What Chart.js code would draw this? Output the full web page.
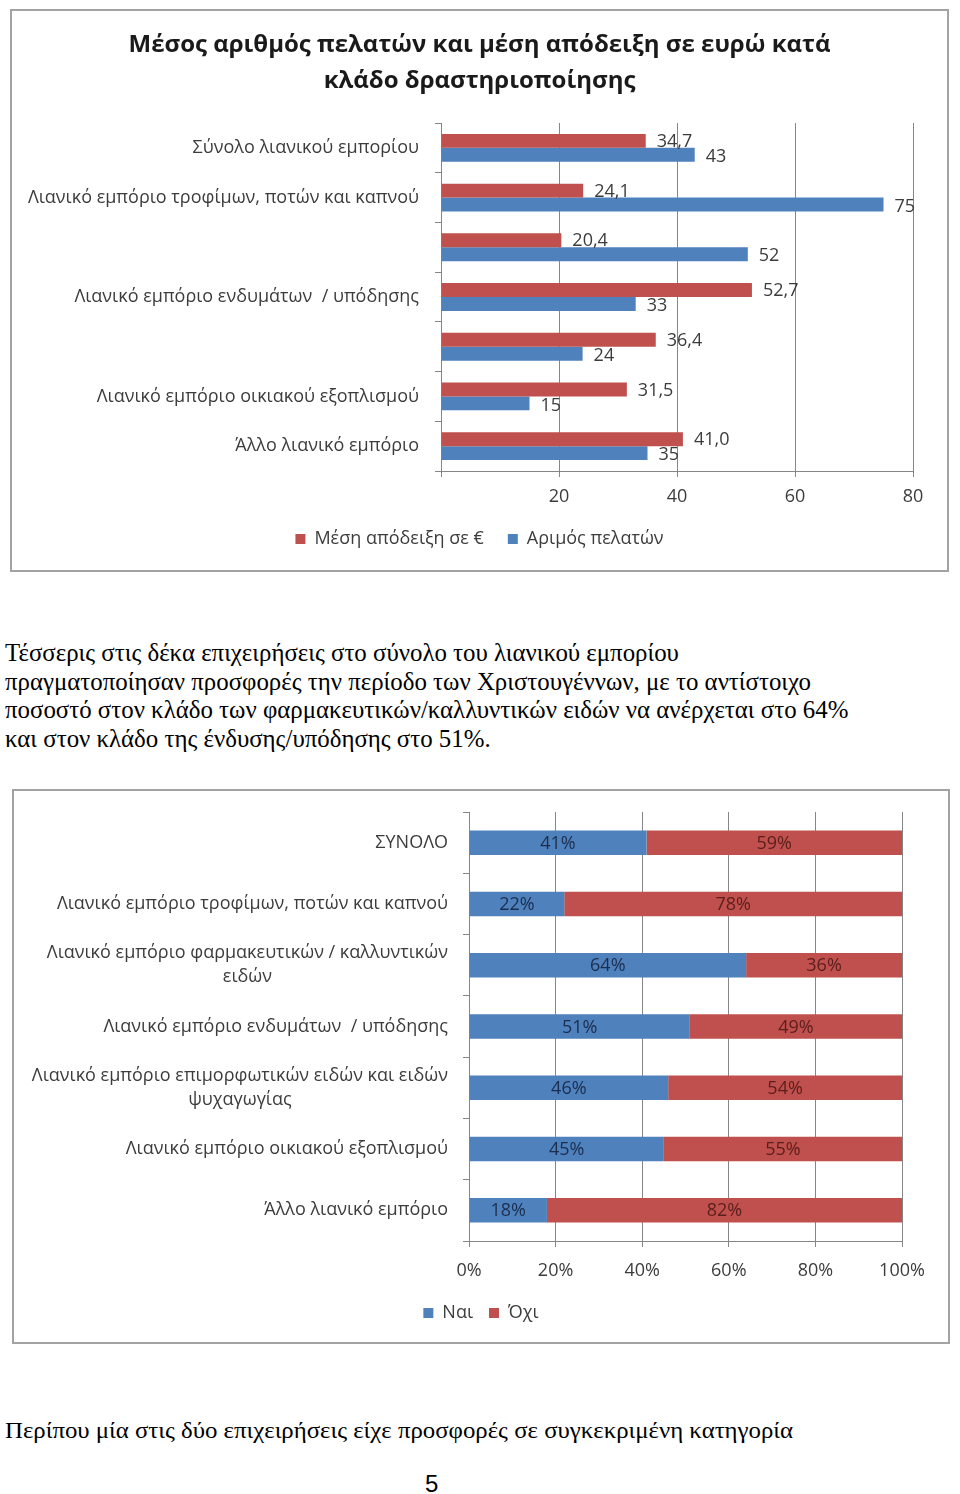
<!DOCTYPE html>
<html><head><meta charset="utf-8">
<script src="https://cdn.jsdelivr.net/npm/chart.js@4.4.1/dist/chart.umd.min.js"></script>
<style>
html,body{margin:0;padding:0;background:#fff}
body{width:960px;height:1494px;position:relative;overflow:hidden}
.box{position:absolute;border:2px solid #a3a3a3;box-sizing:border-box;background:#fff}
canvas{position:absolute}
.txt{position:absolute;left:5px;font-family:"Liberation Serif","Times New Roman",serif;color:#000;white-space:nowrap;transform-origin:0 0}
#para{top:639px;font-size:22px;line-height:28.7px}
#para div{display:block}
#para span{display:inline-block}
#last{top:1415px;font-size:24px;line-height:30px}
#pnum{position:absolute;left:425px;top:1472px;font-family:"Liberation Sans Narrow","Liberation Sans",Arial,sans-serif;font-size:24px;line-height:24px}
</style></head>
<body>
<div class="box" style="left:10px;top:9px;width:939px;height:563px"></div>
<canvas id="c1" width="935" height="547" style="left:12px;top:11px"></canvas>

<div id="para" class="txt">
<div><span>Τέσσερις στις δέκα επιχειρήσεις στο σύνολο του λιανικού εμπορίου</span></div>
<div><span>πραγματοποίησαν προσφορές την περίοδο των Χριστουγέννων, με το αντίστοιχο</span></div>
<div><span id="ref3">ποσοστό στον κλάδο των φαρμακευτικών/καλλυντικών ειδών να ανέρχεται στο 64%</span></div>
<div><span>και στον κλάδο της ένδυσης/υπόδησης στο 51%.</span></div>
</div>

<div class="box" style="left:12px;top:789px;width:938px;height:555px"></div>
<canvas id="c2" width="934" height="541" style="left:14px;top:791px"></canvas>

<div id="last" class="txt"><span id="lastSpan">Περίπου μία στις δύο επιχειρήσεις είχε προσφορές σε συγκεκριμένη κατηγορία</span></div>
<div id="pnum">5</div>

<script>
// ---------- Chart 1 data ----------
const ch1Title = ['Μέσος αριθμός πελατών και μέση απόδειξη σε ευρώ κατά', 'κλάδο δραστηριοποίησης'];
const ch1Categories = [
  'Σύνολο λιανικού εμπορίου',
  'Λιανικό εμπόριο τροφίμων, ποτών και καπνού',
  'Λιανικό εμπόριο φαρμακευτικών / καλλυντικών ειδών',
  'Λιανικό εμπόριο ενδυμάτων / υπόδησης',
  'Λιανικό εμπόριο επιμορφωτικών ειδών και ειδών ψυχαγωγίας',
  'Λιανικό εμπόριο οικιακού εξοπλισμού',
  'Άλλο λιανικό εμπόριο'
];
const ch1TickLabels = [
  'Σύνολο λιανικού εμπορίου',
  'Λιανικό εμπόριο τροφίμων, ποτών και καπνού',
  '',
  'Λιανικό εμπόριο ενδυμάτων  / υπόδησης',
  '',
  'Λιανικό εμπόριο οικιακού εξοπλισμού',
  'Άλλο λιανικό εμπόριο'
];
const ch1SeriesNames = ['Μέση απόδειξη σε €', 'Αριμός πελατών'];
const avgReceipt = [34.7, 24.1, 20.4, 52.7, 36.4, 31.5, 41.0];
const customers = [43, 75, 52, 33, 24, 15, 35];
const ch1XMin = 0, ch1XMax = 80, ch1XStep = 20;

// ---------- Chart 2 data ----------
const ch2Categories = [
  'ΣΥΝΟΛΟ',
  'Λιανικό εμπόριο τροφίμων, ποτών και καπνού',
  ['Λιανικό εμπόριο φαρμακευτικών / καλλυντικών', 'ειδών'],
  'Λιανικό εμπόριο ενδυμάτων  / υπόδησης',
  ['Λιανικό εμπόριο επιμορφωτικών ειδών και ειδών', 'ψυχαγωγίας'],
  'Λιανικό εμπόριο οικιακού εξοπλισμού',
  'Άλλο λιανικό εμπόριο'
];
const ch2SeriesNames = ['Ναι', 'Όχι'];
const yesShare = [41, 22, 64, 51, 46, 45, 18];
const noShare = [59, 78, 36, 49, 54, 55, 82];
const ch2XMin = 0, ch2XMax = 100, ch2XStep = 20;

// ---------- styles ----------
const FONT = '"Open Sans","Noto Sans",sans-serif';
const BLUE = '#4F81BD', RED = '#C0504D';
const AXIS = '#868686', TEXT = '#3c3c3c';
const LBL = 18;

// fit paragraph text widths to the reference
(function(){
  const r3 = document.getElementById('ref3');
  const w = r3.getBoundingClientRect().width;
  const para = document.getElementById('para');
  para.style.fontSize = (22 * 844 / w) + 'px';
  const ls = document.getElementById('lastSpan');
  const w2 = ls.getBoundingClientRect().width;
  document.getElementById('last').style.transform = 'scaleX(' + (788 / w2) + ')';
})();

// invisible right-hand spacer axis (keeps title/legend centred on the whole canvas)
function spacerAxis(w) {
  return {
    type: 'category', position: 'right', display: true,
    grid: { display: false, drawTicks: false }, border: { display: false },
    ticks: { display: false },
    afterFit: s => { s.width = w; }
  };
}

const ch1Formats = [v => v.toFixed(1).replace('.', ','), v => String(v)];

const barEndLabels = {
  id: 'barEndLabels',
  afterDatasetsDraw(chart) {
    const ctx = chart.ctx;
    ctx.save();
    ctx.font = LBL + 'px ' + FONT;
    ctx.fillStyle = TEXT;
    ctx.textAlign = 'left';
    ctx.textBaseline = 'middle';
    chart.data.datasets.forEach((ds, di) => {
      const meta = chart.getDatasetMeta(di);
      meta.data.forEach((bar, i) => {
        ctx.fillText(ch1Formats[di](ds.data[i]), bar.x + 11, bar.y + 1 + di);
      });
    });
    ctx.restore();
  }
};

new Chart(document.getElementById('c1'), {
  type: 'bar',
  data: {
    labels: ch1Categories,
    datasets: [
      { label: ch1SeriesNames[0], data: avgReceipt, backgroundColor: RED, categoryPercentage: 0.56, barPercentage: 1.0 },
      { label: ch1SeriesNames[1], data: customers, backgroundColor: BLUE, categoryPercentage: 0.56, barPercentage: 1.0 }
    ]
  },
  options: {
    indexAxis: 'y',
    responsive: false,
    animation: false,
    layout: { padding: 0 },
    plugins: {
      title: {
        display: true, text: ch1Title, color: '#1a1a1a',
        font: { family: FONT, size: 24, weight: 'bold', lineHeight: 1.5 },
        padding: { top: 16, bottom: 24 }
      },
      legend: {
        position: 'bottom',
        labels: { boxWidth: 10, boxHeight: 10, color: TEXT, font: { family: FONT, size: LBL }, padding: 24 }
      },
      tooltip: { enabled: false }
    },
    scales: {
      x: {
        min: ch1XMin, max: ch1XMax,
        ticks: { stepSize: ch1XStep, color: TEXT, font: { family: FONT, size: LBL }, padding: 9,
                 callback: v => v === 0 ? '' : String(v) },
        grid: { color: AXIS, tickLength: 6 },
        border: { color: AXIS },
        afterFit: s => { s.height = 35; }
      },
      y: {
        ticks: { autoSkip: false, color: TEXT, font: { family: FONT, size: LBL }, padding: 16,
                 callback: (v, i) => ch1TickLabels[i] },
        grid: { offset: true, drawOnChartArea: false, color: AXIS, tickLength: 6 },
        border: { color: AXIS },
        afterFit: s => { s.width = 429; }
      },
      yPad: spacerAxis(34)
    }
  },
  plugins: [barEndLabels]
});

// ---------- Chart 2 ----------
const ch2LabelColors = ['#1b2e4f', '#5a1e1c'];
const segmentLabels = {
  id: 'segmentLabels',
  afterDatasetsDraw(chart) {
    const ctx = chart.ctx;
    ctx.save();
    ctx.font = LBL + 'px ' + FONT;
    ctx.textAlign = 'center';
    ctx.textBaseline = 'middle';
    chart.data.datasets.forEach((ds, di) => {
      ctx.fillStyle = ch2LabelColors[di];
      chart.getDatasetMeta(di).data.forEach((bar, i) => {
        ctx.fillText(ds.data[i] + '%', (bar.x + bar.base) / 2, bar.y + 1);
      });
    });
    ctx.restore();
  }
};
const wrappedYLabels = {
  id: 'wrappedYLabels',
  afterDraw(chart) {
    const ctx = chart.ctx, ys = chart.scales.y;
    ctx.save();
    ctx.font = LBL + 'px ' + FONT;
    ctx.fillStyle = TEXT;
    ctx.textAlign = 'center';
    ctx.textBaseline = 'middle';
    ch2Categories.forEach((lab, i) => {
      const lines = Array.isArray(lab) ? lab : [lab];
      const w = Math.max(...lines.map(l => ctx.measureText(l).width));
      const cx = chart.chartArea.left - 21 - w / 2;
      const yc = ys.getPixelForValue(i);
      lines.forEach((l, k) => ctx.fillText(l, cx, yc + (k - (lines.length - 1) / 2) * 24));
    });
    ctx.restore();
  }
};

new Chart(document.getElementById('c2'), {
  type: 'bar',
  data: {
    labels: ch2Categories.map(l => Array.isArray(l) ? l.join(' ') : l),
    datasets: [
      { label: ch2SeriesNames[0], data: yesShare, backgroundColor: BLUE, categoryPercentage: 0.4, barPercentage: 1.0 },
      { label: ch2SeriesNames[1], data: noShare, backgroundColor: RED, categoryPercentage: 0.4, barPercentage: 1.0 }
    ]
  },
  options: {
    indexAxis: 'y',
    responsive: false,
    animation: false,
    layout: { padding: { left: 0, right: 0, top: 21, bottom: 0 } },
    plugins: {
      legend: {
        position: 'bottom',
        labels: { boxWidth: 10, boxHeight: 10, color: TEXT, font: { family: FONT, size: LBL }, padding: 16 }
      },
      tooltip: { enabled: false }
    },
    scales: {
      x: {
        stacked: true, min: ch2XMin, max: ch2XMax,
        ticks: { stepSize: ch2XStep, color: TEXT, font: { family: FONT, size: LBL }, padding: 13,
                 callback: v => v + '%' },
        grid: { color: AXIS, tickLength: 6 },
        border: { color: AXIS },
        afterFit: s => { s.height = 47; }
      },
      y: {
        stacked: true,
        ticks: { autoSkip: false, callback: () => '' },
        grid: { offset: true, drawOnChartArea: false, color: AXIS, tickLength: 6 },
        border: { color: AXIS },
        afterFit: s => { s.width = 455; }
      },
      yPad: spacerAxis(46)
    }
  },
  plugins: [segmentLabels, wrappedYLabels]
});
</script>
</body></html>
